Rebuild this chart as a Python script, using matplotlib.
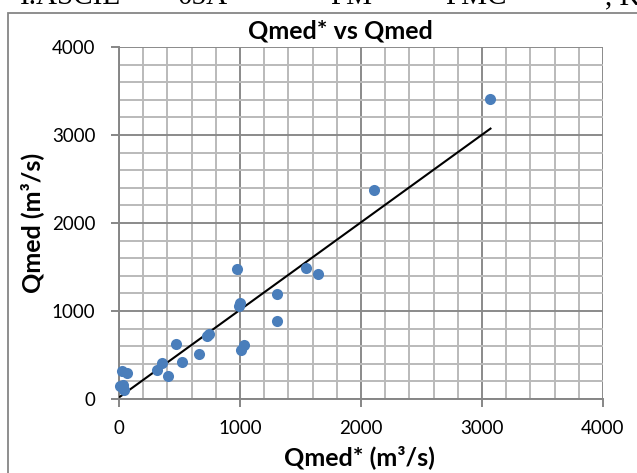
"""Scatter of Qmed* against Qmed with a linear trendline (Excel-style chart)."""

import matplotlib.pyplot as plt
from matplotlib.patches import Rectangle
from matplotlib.ticker import MultipleLocator

# estimated discharges (m3/s)
qmed_star = [8, 35, 45, 22, 64, 311, 358, 408, 468, 521, 661, 730, 745,
             972, 995, 1000, 1005, 1033, 1303, 1303, 1545, 1642, 2104, 3070]
qmed = [145, 155, 100, 322, 299, 330, 413, 265, 622, 420, 515, 720, 735,
        1474, 1060, 1090, 557, 614, 1190, 883, 1492, 1424, 2378, 3409]

# trendline as it appears on the chart
trend_slope = 0.995
trend_intercept = 18

# fragments of the document line cut off above the chart
header_bits = ["I.ASCIE", "05A", "PM", "PMC", ", K"]
header_x = [20, 178, 330, 445, 605]

font = ["Lato", "DejaVu Sans"]
W, H = 637, 473


def main() -> None:
    plt.rcParams["font.family"] = font
    fig = plt.figure(figsize=(W / 100, H / 100), dpi=100)

    ax = fig.add_axes([119 / W, 1 - 399 / H, (603 - 119) / W, (399 - 47) / H])

    # chart border (only top and left edges fall inside the picture)
    fig.patches.append(Rectangle((8 / W, -0.2), 1.5, 1.2 - 13 / H,
                                 transform=fig.transFigure, fill=False,
                                 edgecolor="#868686", lw=1.3))

    for txt, x in zip(header_bits, header_x):
        fig.text(x / W, 1 - 4 / H, txt, family=["Liberation Serif", "DejaVu Serif"],
                 fontsize=21, va="baseline", ha="left", color="black")

    ax.set_xlim(0, 4000)
    ax.set_ylim(0, 4000)
    ax.xaxis.set_major_locator(MultipleLocator(1000))
    ax.yaxis.set_major_locator(MultipleLocator(1000))
    ax.xaxis.set_minor_locator(MultipleLocator(200))
    ax.yaxis.set_minor_locator(MultipleLocator(200))
    ax.grid(which="minor", color="#bababa", lw=1.4)
    ax.grid(which="major", color="#8a8a8a", lw=1.4)
    ax.set_axisbelow(True)

    for side in ("top", "right"):
        ax.spines[side].set_visible(False)
    for side in ("bottom", "left"):
        ax.spines[side].set_color("#868686")
        ax.spines[side].set_linewidth(1.4)

    ax.tick_params(which="major", length=6, width=1.4, color="#868686",
                   labelsize=13.5, pad=11)
    ax.tick_params(which="minor", length=0)
    ax.tick_params(axis="x", pad=9)

    line_x = [min(qmed_star), max(qmed_star)]
    line_y = [trend_slope * v + trend_intercept for v in line_x]
    ax.plot(line_x, line_y, color="black", lw=1.5, zorder=3)
    ax.plot(qmed_star, qmed, "o", color="#4a7ebb", ms=8, mec="none", zorder=4,
            clip_on=False)

    fig.text(340 / W, 1 - 31 / H, "Qmed* vs Qmed", fontsize=18, fontweight="bold",
             ha="center", va="center")
    fig.text(359 / W, 1 - 457 / H, "Qmed* (m³/s)", fontsize=18, fontweight="bold",
             ha="center", va="center")
    fig.text(32 / W, 1 - 223 / H, "Qmed (m³/s)", fontsize=18, fontweight="bold",
             ha="center", va="center", rotation=90)

    fig.savefig("out.png", dpi=100)


if __name__ == "__main__":
    main()
